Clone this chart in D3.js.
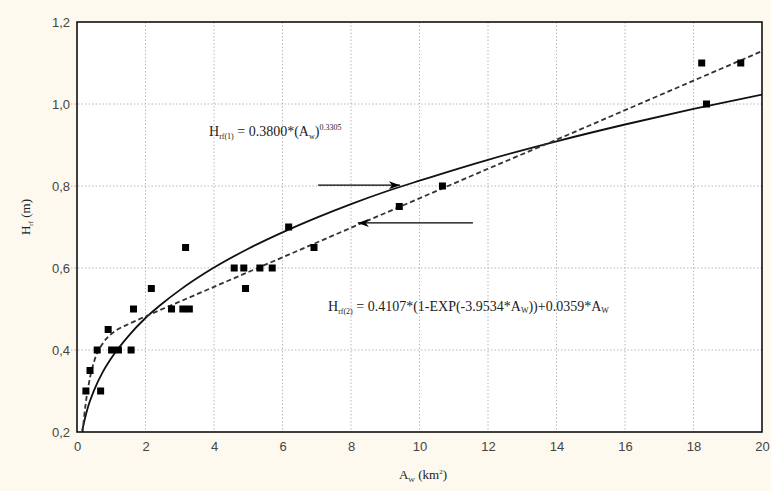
<!DOCTYPE html>
<html>
<head>
<meta charset="utf-8">
<script src="https://cdn.jsdelivr.net/npm/d3@7"></script>
<style>
  body { margin: 0; background: #fdf9ee; }
  svg { display: block; }
</style>
</head>
<body>
<svg id="chart" width="771" height="491"></svg>
<script>
// observed points (A_w km2, H_rf m)
const obsX = [0.26, 0.38, 0.59, 0.69, 0.91, 1.01, 1.21, 1.58, 1.65, 2.17, 2.76, 3.09, 3.28, 3.17,
              4.59, 4.87, 4.92, 5.34, 5.70, 6.18, 6.92, 9.41, 10.67, 18.24, 18.38, 19.38];
const obsY = [0.30, 0.35, 0.40, 0.30, 0.45, 0.40, 0.40, 0.40, 0.50, 0.55, 0.50, 0.50, 0.50, 0.65,
              0.60, 0.60, 0.55, 0.60, 0.60, 0.70, 0.65, 0.75, 0.80, 1.10, 1.00, 1.10];

// fitted curve 1 (solid, power law)
const fit1X = [0.15, 0.3, 0.5, 0.75, 1, 1.5, 2, 2.5, 3, 4, 5, 6, 7, 8, 9, 10, 12, 14, 16, 18, 20];
const fit1Y = [0.203, 0.255, 0.302, 0.346, 0.380, 0.434, 0.478, 0.514, 0.546, 0.601, 0.647, 0.687,
               0.723, 0.756, 0.786, 0.813, 0.864, 0.909, 0.950, 0.988, 1.023];

// fitted curve 2 (dashed, exp + linear)
const fit2X = [0.16, 0.25, 0.35, 0.5, 0.75, 1, 1.25, 1.5, 2, 3, 4, 6, 8, 10, 12, 14, 16, 18, 20];
const fit2Y = [0.198, 0.267, 0.320, 0.372, 0.416, 0.439, 0.453, 0.463, 0.482, 0.518, 0.554, 0.626, 0.698,
               0.770, 0.842, 0.913, 0.985, 1.057, 1.129];

const xTicks = [0, 2, 4, 6, 8, 10, 12, 14, 16, 18, 20];
const yTicks = [0.2, 0.4, 0.6, 0.8, 1.0, 1.2];
const yTickLabels = ["0,2", "0,4", "0,6", "0,8", "1,0", "1,2"];

// arrows: [x0, x1, y, pointsRight]
const arrows = [[7.04, 9.43, 0.802, true], [8.2, 11.56, 0.71, false]];

const svg = d3.select("#chart"),
    margin = {top: 22, right: 9, bottom: 59, left: 77},
    width = +svg.attr("width") - margin.left - margin.right,
    height = +svg.attr("height") - margin.top - margin.bottom,
    g = svg.append("g").attr("transform", "translate(" + margin.left + "," + margin.top + ")");

const x = d3.scaleLinear().domain([0, 20]).range([0, width]);
const y = d3.scaleLinear().domain([0.2, 1.2]).range([height, 0]);

g.append("rect").attr("width", width).attr("height", height).attr("fill", "#fff");

svg.append("defs").append("clipPath").attr("id", "clip")
  .append("rect").attr("width", width).attr("height", height);

// grid
g.append("g").selectAll("line").data(xTicks.slice(1, -1)).join("line")
    .attr("x1", d => x(d)).attr("x2", d => x(d))
    .attr("y1", 0).attr("y2", height)
    .attr("stroke", "#b8b8b8").attr("stroke-dasharray", "1.5,2");
g.append("g").selectAll("line").data(yTicks.slice(1, -1)).join("line")
    .attr("x1", -6).attr("x2", width)
    .attr("y1", d => y(d)).attr("y2", d => y(d))
    .attr("stroke", "#b8b8b8").attr("stroke-dasharray", "1.5,2");

// axes labels
const xAxis = g.append("g")
    .attr("transform", "translate(0," + height + ")")
    .call(d3.axisBottom(x).tickValues(xTicks).tickSize(0).tickPadding(10).tickFormat(d3.format("d")));
const yAxis = g.append("g")
    .call(d3.axisLeft(y).tickValues(yTicks).tickSize(0).tickPadding(7)
      .tickFormat((d, i) => yTickLabels[i]));
[xAxis, yAxis].forEach(a => {
  a.select(".domain").remove();
  a.selectAll("text").attr("font-family", "Liberation Sans, Arial, sans-serif")
    .attr("font-size", 13).attr("fill", "#444");
});

// curves
const clipped = g.append("g").attr("clip-path", "url(#clip)");
const line = d3.line().x(d => x(d[0])).y(d => y(d[1])).curve(d3.curveMonotoneX);
clipped.append("path")
    .datum(d3.zip(fit1X, fit1Y))
    .attr("fill", "none").attr("stroke", "#111").attr("stroke-width", 1.8)
    .attr("d", line);
clipped.append("path")
    .datum(d3.zip(fit2X, fit2Y))
    .attr("fill", "none").attr("stroke", "#333").attr("stroke-width", 1.8)
    .attr("stroke-dasharray", "5,3")
    .attr("d", line);

// points
g.append("g").selectAll("rect").data(d3.zip(obsX, obsY)).join("rect")
    .attr("x", d => x(d[0]) - 3.5).attr("y", d => y(d[1]) - 3.5)
    .attr("width", 7).attr("height", 7).attr("fill", "#000");

// arrows
arrows.forEach(([a, b, v, right]) => {
  g.append("line")
    .attr("x1", x(a)).attr("x2", x(b)).attr("y1", y(v)).attr("y2", y(v))
    .attr("stroke", "#000").attr("stroke-width", 1.3);
  const tip = right ? x(b) : x(a), dir = right ? -1 : 1;
  g.append("path")
    .attr("d", "M" + tip + "," + y(v) + "L" + (tip + dir * 11) + "," + (y(v) - 4) +
               "L" + (tip + dir * 8) + "," + y(v) + "L" + (tip + dir * 11) + "," + (y(v) + 4) + "Z")
    .attr("fill", "#000");
});

// frame
g.append("rect").attr("width", width).attr("height", height)
    .attr("fill", "none").attr("stroke", "#000").attr("stroke-width", 1.5);

// equations
const serif = "Liberation Serif, Times New Roman, serif";
const eq1 = g.append("text").attr("x", 132).attr("y", 114)
    .attr("font-family", serif).attr("font-size", 14).attr("fill", "#222");
eq1.append("tspan").text("H");
eq1.append("tspan").attr("font-size", 8).attr("dy", 3).text("rf(1)");
eq1.append("tspan").attr("dy", -3).text(" = 0.3800*(A");
eq1.append("tspan").attr("font-size", 8).attr("dy", 3).text("w");
eq1.append("tspan").attr("dy", -3).text(")");
eq1.append("tspan").attr("font-size", 8).attr("dy", -6).text("0.3305");

const eq2 = g.append("text").attr("x", 251).attr("y", 289)
    .attr("font-family", serif).attr("font-size", 14).attr("fill", "#222");
eq2.append("tspan").text("H");
eq2.append("tspan").attr("font-size", 8).attr("dy", 3).text("rf(2)");
eq2.append("tspan").attr("dy", -3).text(" = 0.4107*(1-EXP(-3.9534*A");
eq2.append("tspan").attr("font-size", 8).attr("dy", 2).text("W");
eq2.append("tspan").attr("dy", -2).text("))+0.0359*A");
eq2.append("tspan").attr("font-size", 8).attr("dy", 2).text("W");

// axis titles
const xt = svg.append("text").attr("x", 423).attr("y", 479).attr("text-anchor", "middle")
    .attr("font-family", serif).attr("font-size", 13).attr("fill", "#222");
xt.append("tspan").text("A");
xt.append("tspan").attr("font-size", 7).attr("dy", 3).text("W");
xt.append("tspan").attr("dy", -3).text(" (km");
xt.append("tspan").attr("font-size", 7).attr("dy", -5).text("2");
xt.append("tspan").attr("dy", 5).text(")");

const yt = svg.append("text").attr("transform", "translate(30,217) rotate(-90)")
    .attr("text-anchor", "middle")
    .attr("font-family", serif).attr("font-size", 13).attr("fill", "#222");
yt.append("tspan").text("H");
yt.append("tspan").attr("font-size", 7).attr("dy", 3).text("rf");
yt.append("tspan").attr("dy", -3).text(" (m)");
</script>
</body>
</html>
